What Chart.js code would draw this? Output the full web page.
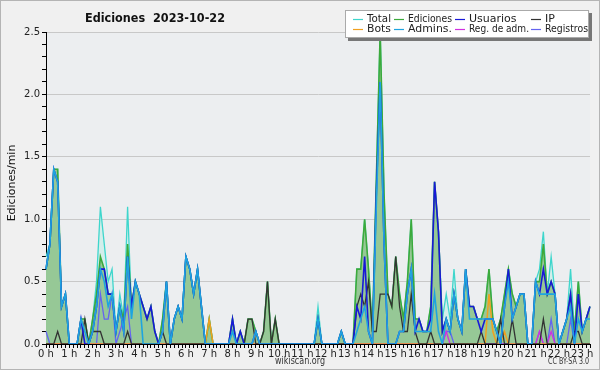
<!DOCTYPE html>
<html><head><meta charset="utf-8">
<script src="https://cdn.jsdelivr.net/npm/chart.js@4.4.0/dist/chart.umd.min.js"></script>
<style>html,body{margin:0;padding:0;background:#f0f0f0}#wrap{width:600px;height:370px;position:relative}</style>
</head><body><div id="wrap"><canvas id="c" width="600" height="370"></canvas></div>
<script>
// 10-minute slots, 0:00 .. 23:20
const hourLabels = ['0 h','1 h','2 h','3 h','4 h','5 h','6 h','7 h','8 h','9 h','10 h','11 h','12 h','13 h','14 h','15 h','16 h','17 h','18 h','19 h','20 h','21 h','22 h','23 h'];
const slotsPerHour = 6;

const total = [
0.7,0.8,1.4,1.4,0.3,0.4,0,0,0,0.2,0.2,0,
0.2,0.5,1.1,0.8,0.5,0.6,0.1,0.4,0.2,1.1,0.3,0.5,
0.4,0.3,0.2,0.3,0.1,0,0.2,0.5,0,0.2,0.3,0.2,
0.7,0.6,0.4,0.6,0.3,0,0.2,0,0,0,0,0,
0.2,0,0.1,0,0.2,0.2,0.1,0,0.1,0.5,0,0.2,
0,0,0,0,0,0,0,0,0,0,0.3,0,
0,0,0,0,0.1,0,0,0,0.6,0.6,1.0,0.6,
0.1,1.3,2.5,1.2,0.4,0.3,0.7,0.4,0.2,0.5,1.0,0.2,
0.2,0.1,0.1,0.3,1.3,0.9,0.2,0.4,0.2,0.6,0.2,0.1,
0.6,0.3,0.3,0.2,0.2,0.3,0.6,0.2,0.1,0.2,0.4,0.6,
0.4,0.3,0.4,0.4,0,0,0.5,0.6,0.9,0.4,0.7,0.4,
0,0.1,0.2,0.6,0.1,0.5,0.1,0.2,0.3];

const ediciones = [
0.6,0.8,1.4,1.4,0.3,0.4,0,0,0,0.2,0.2,0,
0.2,0.4,0.7,0.6,0.4,0.4,0.1,0.3,0.2,0.8,0.3,0.5,
0.4,0.3,0.2,0.3,0.1,0,0.2,0.5,0,0.2,0.3,0.2,
0.7,0.6,0.4,0.6,0.3,0,0.2,0,0,0,0,0,
0.2,0,0.1,0,0.2,0.2,0.1,0,0.1,0.5,0,0.2,
0,0,0,0,0,0,0,0,0,0,0.2,0,
0,0,0,0,0.1,0,0,0,0.6,0.6,1.0,0.6,
0.1,1.3,2.5,1.2,0.4,0.3,0.7,0.4,0.2,0.5,1.0,0.2,
0.2,0.1,0.1,0.3,1.3,0.9,0.1,0.2,0.1,0.4,0.2,0.1,
0.6,0.3,0.3,0.2,0.2,0.3,0.6,0.2,0.1,0.2,0.4,0.6,
0.4,0.3,0.4,0.4,0,0,0.5,0.5,0.8,0.4,0.5,0.4,
0,0.1,0.2,0.4,0.1,0.5,0.1,0.2,0.3];

const usuarios = [
0.6,0.8,1.4,1.3,0.3,0.4,0,0,0,0.2,0,0,
0.1,0.3,0.6,0.6,0.4,0.4,0.1,0.3,0.1,0.7,0.3,0.5,
0.4,0.3,0.2,0.3,0.1,0,0.1,0.5,0,0.2,0.3,0.2,
0.7,0.6,0.4,0.6,0.3,0,0,0,0,0,0,0,
0.2,0,0.1,0,0,0,0.1,0,0,0,0,0,
0,0,0,0,0,0,0,0,0,0,0.2,0,
0,0,0,0,0.1,0,0,0,0.3,0.2,0.7,0.1,
0,1.2,2.1,0.8,0,0,0,0.1,0.1,0.4,0.6,0.1,
0.2,0.1,0.1,0.2,1.3,0.9,0.1,0.2,0.1,0.4,0.2,0.1,
0.6,0.3,0.3,0.2,0.1,0.2,0.2,0.2,0.1,0,0.3,0.6,
0.2,0.3,0.4,0.4,0,0,0.5,0.4,0.6,0.4,0.5,0.4,
0,0.1,0.2,0.4,0,0.4,0.1,0.2,0.3];

const ip = [
0,0,0,0.1,0,0,0,0,0,0,0.2,0,
0.1,0.1,0.1,0,0,0,0,0,0,0.1,0,0,
0,0,0,0,0,0,0.1,0,0,0,0,0,
0,0,0,0,0,0,0,0,0,0,0,0,
0,0,0,0,0.2,0.2,0,0,0.1,0.5,0,0.2,
0,0,0,0,0,0,0,0,0,0,0,0,
0,0,0,0,0,0,0,0,0.3,0.4,0.3,0.5,
0.1,0.1,0.4,0.4,0.4,0.3,0.7,0.3,0.1,0.1,0.4,0.1,
0,0,0,0.1,0,0,0,0,0,0,0,0,
0,0,0,0,0.1,0,0,0,0,0.2,0,0,
0.2,0,0,0,0,0,0,0,0.2,0,0,0,
0,0,0,0,0.1,0.1,0,0,0];

const bots = [
0,0,0,0,0,0,0,0,0,0,0,0,
0,0,0,0,0,0,0,0,0,0,0,0,
0,0,0,0,0,0,0,0,0,0,0,0,
0,0,0,0,0,0,0.2,0,0,0,0,0,
0,0,0,0,0,0,0,0,0,0,0,0,
0,0,0,0,0,0,0,0,0,0,0,0,
0,0,0,0,0,0,0,0,0,0,0,0,
0,0,0,0,0,0,0,0,0,0,0,0,
0,0,0,0,0,0,0,0,0,0,0,0,
0,0,0,0,0,0,0.4,0.1,0,0,0.1,0,
0,0,0,0,0,0,0,0,0,0,0,0,
0,0,0,0,0,0,0,0,0];

const admins = [
0.6,0.8,1.4,1.3,0.3,0.4,0,0,0,0.2,0.1,0,
0.1,0.3,0.6,0.5,0.3,0.4,0.1,0.3,0.1,0.7,0.2,0.5,
0.4,0,0,0,0,0,0.1,0.5,0,0.2,0.3,0.2,
0.7,0.6,0.4,0.6,0.3,0,0,0,0,0,0,0,
0.1,0,0,0,0,0,0.1,0,0,0,0,0,
0,0,0,0,0,0,0,0,0,0,0.2,0,
0,0,0,0,0.1,0,0,0,0.1,0.2,0.3,0.1,
0,1.1,2.1,0.8,0,0,0,0.1,0.1,0.4,0.6,0.1,
0.1,0.1,0.1,0.1,0.4,0.1,0,0.2,0.1,0.4,0.2,0.1,
0.6,0.2,0.2,0.2,0.2,0.2,0.2,0.2,0.1,0,0.3,0.5,
0.2,0.3,0.4,0.4,0,0,0.5,0.4,0.4,0.4,0.4,0.4,
0,0.1,0.2,0.3,0,0.2,0.1,0.2,0.2];

const regAdm = [
0,0,0,0,0,0,0,0,0,0,0,0,
0,0,0,0,0,0,0,0,0,0,0,0,
0,0,0,0,0,0,0,0,0,0,0,0,
0,0,0,0,0,0,0,0,0,0,0,0,
0,0,0,0,0,0,0,0,0,0,0,0,
0,0,0,0,0,0,0,0,0,0,0,0,
0,0,0,0,0,0,0,0,0,0,0,0,
0,0,0,0,0,0,0,0,0,0,0,0,
0,0,0,0,0,0,0,0.1,0,0,0,0,
0,0,0,0,0,0,0,0,0,0,0,0,
0,0,0,0,0,0,0,0.1,0,0,0.1,0,
0,0,0,0,0,0,0,0,0];

const registros = [
0.1,0,0,0,0,0,0,0,0,0,0,0,
0,0,0.4,0.2,0.2,0.4,0,0.1,0.2,0.3,0,0,
0,0,0,0,0,0,0,0,0,0,0,0,
0,0,0,0,0,0,0,0,0,0,0,0,
0,0,0,0,0,0,0,0,0,0,0,0,
0,0,0,0,0,0,0,0,0,0,0,0,
0,0,0,0,0,0,0,0,0,0,0,0,
0,0,0,0,0,0,0,0,0,0,0,0,
0,0,0,0,0,0,0,0.1,0.1,0,0,0,
0,0,0,0,0,0,0,0,0,0,0,0,
0,0,0,0,0,0,0,0.1,0,0,0.2,0,
0,0,0,0.2,0,0,0,0,0];

const slots = ediciones.map((_, i) => i);
const isHalf = v => Math.abs(v * 2 - Math.round(v * 2)) < 1e-6;

const FONT = '"DejaVu Sans",sans-serif';

const ds = (label, data, color, order, width, fill) => ({
  label, data, borderColor: color, backgroundColor: fill || color,
  borderWidth: width, pointRadius: 0, tension: 0, order,
  fill: fill ? 'origin' : false
});

const datasets = [
  ds('Total', total, '#3ed6cc', 10, 1.3, '#d3eeeb'),
  ds('Ediciones', ediciones, '#3caa3c', 9, 1.6, '#96c896'),
  ds('Usuarios', usuarios, '#1818d8', 2, 1.6),
  ds('IP', ip, '#333333', 3, 1.3),
  ds('Bots', bots, '#f0a020', 4, 1.5),
  ds('Admins.', admins, '#1ea4e0', 1, 1.6),
  ds('Reg. de adm.', regAdm, '#d030e0', 5, 1.3),
  ds('Registros', registros, '#6464f0', 6, 1.3)
];

const decor = {
  id: 'decor',
  beforeDraw(chart) {
    const { ctx, chartArea: a } = chart;
    ctx.save();
    ctx.fillStyle = '#f0f0f0';
    ctx.fillRect(0, 0, chart.width, chart.height);
    ctx.fillStyle = '#eceef0';
    ctx.fillRect(a.left, a.top, a.right - a.left, a.bottom - a.top);
    ctx.restore();
  },
  afterDraw(chart) {
    const { ctx, chartArea: a } = chart;
    ctx.save();
    ctx.strokeStyle = '#b4b4b4';
    ctx.lineWidth = 1;
    ctx.strokeRect(0.5, 0.5, chart.width - 1, chart.height - 1);
    // title
    ctx.fillStyle = '#111';
    ctx.font = 'bold 13px ' + FONT;
    ctx.textBaseline = 'alphabetic';
    ctx.textAlign = 'left';
    ctx.fillText('Ediciones  2023-10-22', 85, 22, 140);
    // y title
    ctx.save();
    ctx.translate(12, (a.top + a.bottom) / 2 - 5);
    ctx.rotate(-Math.PI / 2);
    ctx.textAlign = 'center';
    ctx.textBaseline = 'middle';
    ctx.font = '11px ' + FONT;
    ctx.fillStyle = '#111';
    ctx.fillText('Ediciones/min', 0, 0);
    ctx.restore();
    // footer
    ctx.font = '10px ' + FONT;
    ctx.fillStyle = '#333';
    ctx.textAlign = 'center';
    ctx.textBaseline = 'middle';
    ctx.fillText('wikiscan.org', 300, 361, 50);
    ctx.font = '8px ' + FONT;
    ctx.textAlign = 'right';
    ctx.fillText('CC BY-SA 3.0', 589, 362, 41);
    // legend
    const bx = 345, by = 10, bw = 244, bh = 28;
    ctx.fillStyle = '#777';
    ctx.fillRect(bx + 3, by + 3, bw, bh);
    ctx.fillStyle = '#ffffff';
    ctx.fillRect(bx, by, bw, bh);
    ctx.strokeStyle = '#aaa';
    ctx.strokeRect(bx + 0.5, by + 0.5, bw - 1, bh - 1);
    const cols = [353, 394, 455, 531];
    const widths = [24, 44, 60, 43];
    const rows = [19, 29];
    ctx.font = '11px ' + FONT;
    ctx.textAlign = 'left';
    ctx.textBaseline = 'middle';
    chart.data.datasets.forEach((d, k) => {
      const c = k % 4;
      const cx = cols[c], cy = rows[Math.floor(k / 4)];
      ctx.strokeStyle = d.borderColor;
      ctx.lineWidth = 1.2;
      ctx.beginPath();
      ctx.moveTo(cx, cy + 0.5);
      ctx.lineTo(cx + 10, cy + 0.5);
      ctx.stroke();
      ctx.fillStyle = '#222';
      ctx.fillText(d.label, cx + 14, cy, widths[c]);
    });
    ctx.restore();
  }
};

new Chart(document.getElementById('c'), {
  type: 'line',
  data: { labels: slots, datasets },
  options: {
    responsive: false,
    animation: false,
    devicePixelRatio: 1,
    layout: { padding: { top: 32, right: 10, bottom: 10, left: 0 } },
    plugins: { legend: { display: false }, tooltip: { enabled: false }, title: { display: false } },
    scales: {
      x: {
        type: 'category',
        offset: false,
        z: 1,
        border: { color: '#000', width: 1 },
        grid: { drawOnChartArea: false, tickColor: '#000', tickLength: 4 },
        ticks: {
          autoSkip: false, maxRotation: 0, minRotation: 0, padding: 0,
          color: '#222', font: { family: FONT, size: 10 },
          callback: (v, i) => (i % slotsPerHour === 0 ? hourLabels[i / slotsPerHour] : '')
        },
        afterFit: s => { s.height = 16; }
      },
      y: {
        type: 'linear',
        min: 0, max: 2.5,
        z: 1,
        border: { color: '#000', width: 1 },
        grid: {
          color: c => (c.tick && isHalf(c.tick.value) && c.tick.value > 0 ? '#c8c8c8' : 'rgba(0,0,0,0)'),
          tickColor: '#000', tickLength: 4
        },
        ticks: {
          stepSize: 0.1, autoSkip: false, maxTicksLimit: 100, padding: 2,
          color: '#222', font: { family: FONT, size: 10 },
          callback: v => (isHalf(v) ? v.toFixed(1) : '')
        },
        afterFit: s => { s.width = 46; }
      }
    }
  },
  plugins: [decor]
});
</script>
</body></html>
